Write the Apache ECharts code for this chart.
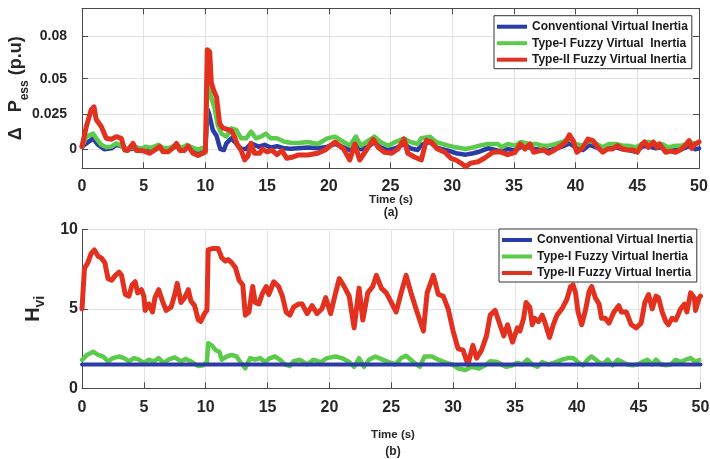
<!DOCTYPE html>
<html>
<head>
<meta charset="utf-8">
<title>Virtual inertia control comparison</title>
<script src="https://cdn.jsdelivr.net/npm/echarts@6/dist/echarts.min.js"></script>
<style>
  html, body { margin: 0; padding: 0; background: #ffffff; }
  #chart { width: 710px; height: 459px; }
</style>
</head>
<body>
<div id="chart"></div>
<script>
// ---- (a) ESS power deviation, p.u. : [time (s), value] ----
const pessConv = [[0,0.0017],[0.35,0.004],[0.9,0.0076],[1.3,0.003],[1.8,-0.0002],[2.38,0.0005],[2.78,0.003],[3.2,0.002],[3.6,-0.0002],[4.0,0.0],[4.5,0.0008],[5.0,-0.0005],[5.5,0.0],[6.2,0.0017],[6.6,-0.0005],[7.1,0.0],[7.66,0.002],[8.1,0.0],[8.5,0.002],[9.0,-0.0002],[9.4,-0.0015],[9.8,-0.0005],[10.0,0.0005],[10.18,0.028],[10.3,0.025],[10.6,0.0135],[10.9,0.0095],[11.2,0.0],[11.5,-0.0007],[11.7,0.004],[12.1,0.0076],[12.5,0.004],[12.9,0.0],[13.3,0.0],[13.7,0.004],[14.3,0.0017],[14.8,0.003],[15.3,0.001],[15.8,0.002],[16.4,0.0005],[16.9,0.0002],[17.5,0.0005],[18.3,0.001],[19.1,0.0005],[19.9,0.0017],[20.5,0.0036],[21.2,0.0012],[21.7,-0.0007],[22.2,0.0036],[22.6,-0.0002],[23.2,0.0017],[23.7,0.005],[24.2,0.0012],[24.8,-0.0007],[25.4,0.0005],[26.1,0.0036],[26.6,0.0005],[27.2,-0.0007],[27.5,0.0029],[28.2,0.005],[28.7,0.0012],[29.2,-0.0002],[29.7,-0.0012],[30.3,-0.003],[31.1,-0.004],[31.7,-0.003],[32.2,-0.0019],[32.9,0.0005],[33.5,-0.0007],[34.0,-0.0019],[34.5,0.0],[35.1,-0.0012],[35.6,0.0017],[36.2,0.0012],[36.8,-0.0002],[37.3,-0.0007],[37.8,-0.0012],[38.4,0.0005],[38.9,0.0017],[39.5,0.004],[40.0,0.0012],[40.6,-0.0007],[41.1,0.0029],[41.7,0.0012],[42.2,-0.0012],[42.7,0.0005],[43.3,0.0012],[43.8,-0.0002],[44.3,-0.0007],[44.9,-0.0019],[45.4,0.0017],[45.9,0.0021],[46.5,0.0005],[47.0,0.0012],[47.5,-0.0012],[48.1,-0.0002],[48.6,-0.0002],[49.2,0.0021],[49.7,-0.0002],[50,0.0005]];

const pessType1 = [[0,0.0017],[0.35,0.0088],[0.9,0.011],[1.15,0.0076],[1.56,0.003],[1.97,0.0012],[2.38,0.0017],[2.78,0.004],[3.05,0.003],[3.46,0.0008],[3.7,-0.0002],[4.26,0.0017],[4.8,0.0],[5.2,0.0017],[5.6,0.0008],[6.2,0.003],[6.57,0.0008],[7.1,0.0008],[7.66,0.003],[8.1,0.0008],[8.5,0.003],[9.0,0.0008],[9.4,-0.0005],[9.8,0.0008],[10.0,0.0017],[10.18,0.0456],[10.5,0.036],[10.75,0.029],[11.0,0.017],[11.3,0.011],[11.7,0.0088],[12.1,0.0147],[12.5,0.0136],[12.9,0.0076],[13.3,0.0076],[13.7,0.0124],[14.1,0.0076],[14.5,0.0088],[14.9,0.011],[15.3,0.0076],[15.8,0.0076],[16.4,0.0052],[16.9,0.0045],[17.5,0.0043],[18.3,0.005],[19.1,0.0036],[19.9,0.0076],[20.5,0.0088],[21.2,0.005],[21.7,0.0024],[22.2,0.0088],[22.6,0.0024],[23.2,0.006],[23.7,0.0088],[24.2,0.005],[24.8,0.0024],[25.4,0.005],[26.1,0.0076],[26.6,0.005],[27.2,0.0036],[27.5,0.0076],[28.2,0.0088],[28.7,0.005],[29.2,0.0036],[29.7,0.0024],[30.3,0.0012],[31.1,0.0],[31.7,0.0012],[32.2,0.0024],[32.9,0.0036],[33.7,0.0036],[34.0,0.0012],[34.5,0.0036],[35.1,0.0024],[35.6,0.005],[36.2,0.0036],[36.8,0.0036],[37.3,0.0024],[37.8,0.0024],[38.4,0.0036],[38.9,0.005],[39.5,0.0076],[40.0,0.0036],[40.6,0.0024],[41.1,0.006],[41.7,0.0036],[42.2,0.0012],[42.7,0.0036],[43.3,0.0036],[43.8,0.0024],[44.3,0.0024],[44.9,0.0012],[45.4,0.0036],[45.9,0.005],[46.5,0.0036],[47.0,0.0036],[47.5,0.0012],[48.1,0.0024],[48.6,0.0024],[49.2,0.005],[49.7,0.0036],[50,0.005]];

const pessType2 = [[0,0.0017],[0.35,0.016],[0.75,0.028],[0.97,0.030],[1.15,0.021],[1.56,0.016],[1.97,0.0076],[2.38,0.007],[2.78,0.0088],[3.19,0.0076],[3.46,-0.0007],[3.7,-0.001],[4.13,0.004],[4.4,-0.001],[4.8,-0.001],[5.2,-0.002],[5.5,-0.003],[5.9,-0.0007],[6.3,0.0017],[6.57,-0.002],[6.98,-0.002],[7.4,0.001],[7.66,0.004],[7.93,-0.001],[8.3,-0.001],[8.6,0.002],[9.0,-0.003],[9.4,-0.0046],[9.8,-0.003],[10.0,-0.002],[10.15,0.0706],[10.35,0.069],[10.48,0.047],[10.7,0.041],[10.9,0.037],[11.16,0.018],[11.4,0.015],[11.76,0.014],[12.1,0.013],[12.35,0.009],[12.6,0.0028],[12.9,-0.001],[13.18,-0.0078],[13.45,-0.005],[13.7,0.004],[13.97,-0.003],[14.4,-0.003],[14.6,0.0],[15.0,-0.002],[15.4,-0.0008],[15.8,-0.004],[16.2,-0.0012],[16.6,-0.0066],[17.1,-0.0057],[17.5,-0.0043],[18.3,-0.0043],[19.1,-0.003],[19.7,-0.0007],[20.5,0.005],[21.2,0.0],[21.7,-0.0078],[22.1,0.0036],[22.5,-0.0078],[23.1,0.0],[23.6,0.0069],[24.0,0.0012],[24.5,-0.0023],[25.1,-0.003],[25.6,0.0],[26.1,0.007],[26.4,-0.003],[26.9,-0.0055],[27.5,-0.0078],[27.9,0.0062],[28.3,0.005],[28.8,0.0],[29.4,-0.0023],[29.9,-0.0066],[30.3,-0.0078],[30.7,-0.010],[31.1,-0.0126],[31.5,-0.010],[32.1,-0.009],[32.6,-0.0066],[33.3,-0.0023],[33.9,-0.002],[34.5,-0.004],[35.1,-0.0023],[35.5,0.0036],[35.9,0.0],[36.3,0.0036],[36.6,-0.0023],[37.0,-0.0015],[37.4,-0.0005],[37.8,-0.003],[38.3,-0.0007],[38.8,0.0024],[39.2,0.005],[39.5,0.0100],[39.8,0.006],[40.1,-0.0023],[40.6,0.0012],[41.0,0.0071],[41.4,0.006],[41.8,0.0012],[42.2,-0.0023],[42.6,0.0],[43.0,0.0],[43.4,0.0024],[43.8,0.0],[44.2,-0.0007],[44.6,-0.0007],[45.0,-0.0023],[45.4,0.0036],[45.6,0.005],[45.9,0.0012],[46.3,0.005],[46.6,0.0012],[46.8,0.0036],[47.3,-0.0023],[47.7,-0.0015],[48.1,-0.0023],[48.5,-0.0005],[48.9,0.0024],[49.2,0.006],[49.4,0.0005],[49.7,0.0036],[50,0.005]];

// ---- (b) virtual inertia constant H_vi : [time (s), value] ----
const hConv = [[0,1.5],[50,1.5]];

const hType1 = [[0,1.78],[0.4,2.1],[0.9,2.3],[1.3,2.1],[1.7,2.0],[2.1,1.7],[2.5,1.9],[3.0,2.0],[3.4,1.9],[3.8,1.7],[4.2,1.9],[4.6,1.8],[5.0,1.6],[5.4,1.8],[5.8,1.7],[6.2,1.9],[6.6,1.6],[7.0,1.8],[7.5,1.95],[8.0,1.7],[8.4,1.85],[8.9,1.65],[9.4,1.4],[9.8,1.45],[10.1,1.65],[10.2,2.83],[10.5,2.7],[10.8,2.4],[11.1,2.3],[11.3,1.8],[11.7,2.0],[12.1,2.1],[12.5,2.0],[12.8,1.65],[13.2,1.26],[13.6,1.9],[14.0,1.8],[14.4,1.9],[14.8,1.65],[15.2,1.9],[15.6,2.0],[16.0,1.8],[16.4,1.5],[16.8,1.4],[17.1,1.7],[17.6,1.8],[18.2,1.5],[18.7,1.8],[19.3,1.65],[19.8,1.9],[20.5,2.0],[21.0,1.9],[21.6,1.65],[22.0,1.35],[22.4,1.9],[22.8,1.35],[23.2,1.8],[23.7,2.0],[24.3,1.8],[24.8,1.65],[25.3,1.5],[25.8,1.9],[26.2,2.05],[26.8,1.65],[27.3,1.35],[27.7,2.0],[28.3,2.0],[28.8,1.8],[29.3,1.65],[29.9,1.5],[30.4,1.25],[31.0,1.15],[31.5,1.35],[32.1,1.25],[32.6,1.45],[33.0,1.7],[33.6,1.65],[34.0,1.45],[34.3,1.35],[34.8,1.45],[35.2,1.6],[35.6,1.5],[36.0,1.8],[36.4,1.5],[36.8,1.35],[37.2,1.65],[37.7,1.5],[38.3,1.65],[38.8,1.8],[39.3,1.9],[39.7,1.9],[40.1,1.65],[40.5,1.45],[41.0,1.9],[41.2,2.0],[41.7,1.7],[42.1,1.5],[42.5,1.8],[42.9,1.45],[43.3,1.8],[43.7,1.65],[44.1,1.5],[44.5,1.45],[44.9,1.5],[45.3,1.65],[45.7,1.8],[46.1,1.5],[46.4,1.8],[46.8,1.5],[47.2,1.45],[47.6,1.5],[48.0,1.8],[48.4,1.65],[48.8,1.8],[49.2,1.9],[49.6,1.65],[49.9,1.78]];

const hType2 = [[0,5.0],[0.2,7.55],[0.48,7.9],[0.75,8.5],[1.0,8.7],[1.3,8.3],[1.57,8.2],[1.85,7.9],[2.1,6.9],[2.4,6.8],[2.7,7.1],[3.0,7.3],[3.2,7.1],[3.5,5.9],[3.8,5.8],[4.05,6.5],[4.3,6.7],[4.5,6.0],[4.8,6.2],[5.0,5.8],[5.1,4.9],[5.4,5.3],[5.7,4.8],[5.9,5.7],[6.2,6.2],[6.5,5.5],[6.8,4.9],[7.2,5.1],[7.5,5.9],[7.7,6.6],[8.0,5.4],[8.3,5.7],[8.6,6.2],[8.8,5.5],[9.1,5.2],[9.4,4.3],[9.6,4.2],[9.9,4.7],[10.1,4.9],[10.2,8.7],[10.6,8.8],[11.0,8.8],[11.3,8.2],[11.6,8.0],[11.8,8.1],[12.1,7.9],[12.4,7.6],[12.7,6.8],[13.0,6.5],[13.2,4.6],[13.5,4.8],[13.8,6.4],[14.0,5.4],[14.3,5.3],[14.6,6.0],[14.9,6.4],[15.1,5.9],[15.5,6.7],[15.9,6.4],[16.2,5.8],[16.5,4.8],[16.8,4.6],[17.1,5.1],[17.5,5.3],[17.8,5.3],[18.2,4.7],[18.6,5.2],[19.0,4.7],[19.4,5.0],[19.7,5.7],[20.1,4.7],[20.5,6.0],[20.8,6.9],[21.2,6.4],[21.6,5.8],[22.0,3.8],[22.4,6.3],[22.7,4.3],[23.1,6.0],[23.5,6.4],[23.8,7.1],[24.2,6.3],[24.6,6.0],[25.0,5.4],[25.4,4.8],[25.8,6.0],[26.2,7.1],[26.6,6.0],[27.0,5.0],[27.6,3.6],[27.9,6.0],[28.4,7.1],[28.8,5.9],[29.2,5.8],[29.6,5.0],[30.0,3.6],[30.4,2.5],[30.8,2.4],[31.2,1.5],[31.6,2.7],[31.9,1.9],[32.3,2.4],[32.7,3.3],[33.0,4.6],[33.4,4.9],[33.7,4.2],[34.1,3.3],[34.4,4.0],[34.8,2.9],[35.2,3.8],[35.4,3.6],[35.7,4.4],[35.9,5.4],[36.2,5.1],[36.4,4.0],[36.6,4.4],[36.9,4.2],[37.2,4.6],[37.4,4.2],[37.8,3.2],[38.1,4.0],[38.4,4.6],[38.8,5.0],[39.2,5.6],[39.5,6.4],[39.7,6.5],[39.9,6.0],[40.1,4.8],[40.4,4.0],[40.7,4.9],[41.0,6.1],[41.2,6.4],[41.5,5.7],[41.8,5.3],[42.0,4.4],[42.3,4.4],[42.6,4.1],[43.0,4.8],[43.4,5.2],[43.6,4.8],[44.0,4.8],[44.4,4.0],[44.8,3.8],[45.2,4.1],[45.5,5.4],[45.8,5.9],[46.1,5.0],[46.4,5.8],[46.6,5.7],[46.9,4.8],[47.2,4.2],[47.4,4.0],[47.7,4.4],[48.0,4.3],[48.4,5.0],[48.7,5.3],[48.9,4.8],[49.2,6.0],[49.5,5.7],[49.6,4.9],[49.9,5.7],[50,5.8]];

// axis ticks
const pessTicks = [0, 0.025, 0.05, 0.08];
const hTicks = [0, 5, 10];

// legend entries
const nameConv = 'Conventional Virtual Inertia';
const nameType1a = 'Type-I Fuzzy Virtual  Inertia';
const nameType1b = 'Type-I Fuzzy Virtual Inertia';
const nameType2 = 'Type-II Fuzzy Virtual Inertia';

const FONT = '"Liberation Sans", Arial, Helvetica, sans-serif';
const INK = '#262626';
const AXIS = '#4a4a4a';
const GRIDC = '#e3e3e3';
const BLUE = '#2c3ca6';
const GREEN = '#5ccb4b';
const RED = '#e2321f';

const chart = echarts.init(document.getElementById('chart'), null, { renderer: 'canvas' });

function timeAxis(gridIndex, opts) {
  return Object.assign({
    type: 'value', gridIndex: gridIndex, min: 0, max: 50, interval: 5,
    axisLine: { show: true, onZero: false, lineStyle: { color: AXIS, width: 1 } },
    axisTick: { show: true, inside: true, length: 6, lineStyle: { color: AXIS } },
    axisLabel: { show: true, fontFamily: FONT, fontSize: 16, fontWeight: 'bold', color: INK, margin: 10 },
    splitLine: { show: true, lineStyle: { color: GRIDC, width: 1 } }
  }, opts || {});
}

function lineSeries(name, data, xi, yi, color, width) {
  return {
    name: name, type: 'line', xAxisIndex: xi, yAxisIndex: yi, data: data,
    showSymbol: false, color: color,
    lineStyle: { width: width, color: color, cap: 'round', join: 'round' }
  };
}

const legendText = { fontFamily: FONT, fontSize: 12, fontWeight: 'bold', color: '#1a1a1a', lineHeight: 14 };

const option = {
  animation: false,
  backgroundColor: '#ffffff',
  grid: [
    { left: 82, top: 8.3, width: 617, height: 160, show: false, containLabel: false, outerBoundsMode: 'none' },
    { left: 82, top: 229.3, width: 618.5, height: 159, show: false, containLabel: false, outerBoundsMode: 'none' }
  ],
  xAxis: [
    timeAxis(0),
    timeAxis(0, { position: 'top', axisLabel: { show: false }, splitLine: { show: false } }),
    timeAxis(1, { axisLabel: { show: true, fontFamily: FONT, fontSize: 16, fontWeight: 'bold', color: INK, margin: 11 } })
  ],
  yAxis: [
    {
      type: 'value', gridIndex: 0, min: -0.0137, max: 0.1,
      name: '{m|Δ   P}{s|ess}{m| (p.u)}',
      nameLocation: 'middle', nameGap: 51, nameMoveOverlap: false,
      nameTextStyle: {
        rich: {
          m: { fontFamily: FONT, fontSize: 18, fontWeight: 'bold', color: INK, lineHeight: 24, verticalAlign: 'top' },
          s: { fontFamily: FONT, fontSize: 12, fontWeight: 'bold', color: INK, lineHeight: 12, verticalAlign: 'bottom' }
        }
      },
      axisLine: { show: true, onZero: false, lineStyle: { color: AXIS } },
      axisTick: { show: true, inside: true, length: 6, customValues: pessTicks, lineStyle: { color: AXIS } },
      axisLabel: {
        show: true, customValues: pessTicks, margin: 5,
        fontFamily: FONT, fontSize: 14, fontWeight: 'bold', color: INK,
        formatter: function (v) { return v === 0 ? '0' : '{p|' + v + '}'; },
        rich: { p: { fontFamily: FONT, fontSize: 14, fontWeight: 'bold', color: INK, padding: [0, 10, 0, 0] } }
      },
      splitLine: { show: true, lineStyle: { color: GRIDC } }
    },
    {
      type: 'value', gridIndex: 0, min: -0.0137, max: 0.1, position: 'right',
      axisLine: { show: true, onZero: false, lineStyle: { color: AXIS } },
      axisTick: { show: true, inside: true, length: 6, customValues: pessTicks, lineStyle: { color: AXIS } },
      axisLabel: { show: false },
      splitLine: { show: false }
    },
    {
      type: 'value', gridIndex: 1, min: hTicks[0], max: hTicks[hTicks.length - 1], interval: 5,
      name: '{m|H}{s|vi}',
      nameLocation: 'middle', nameGap: 35, nameMoveOverlap: false,
      nameTextStyle: {
        rich: {
          m: { fontFamily: FONT, fontSize: 20, fontWeight: 'bold', color: INK, lineHeight: 24, verticalAlign: 'top' },
          s: { fontFamily: FONT, fontSize: 14, fontWeight: 'bold', color: INK, lineHeight: 14, verticalAlign: 'bottom' }
        }
      },
      axisLine: { show: true, onZero: false, lineStyle: { color: AXIS } },
      axisTick: { show: true, inside: true, length: 6, lineStyle: { color: AXIS } },
      axisLabel: { show: true, margin: 4, fontFamily: FONT, fontSize: 16, fontWeight: 'bold', color: INK },
      splitLine: { show: true, lineStyle: { color: GRIDC } }
    }
  ],
  legend: [
    {
      left: 494, top: 15.7, orient: 'vertical', itemGap: 2.5,
      itemWidth: 30, itemHeight: 4, icon: 'rect',
      padding: [4, 4, 2, 3],
      borderColor: '#333333', borderWidth: 1, backgroundColor: '#ffffff',
      textStyle: legendText,
      data: [nameConv, nameType1a, nameType2]
    },
    {
      left: 499, top: 229, orient: 'vertical', itemGap: 2.5,
      itemWidth: 30, itemHeight: 4, icon: 'rect',
      padding: [4, 4, 2, 3],
      borderColor: '#333333', borderWidth: 1, backgroundColor: '#ffffff',
      textStyle: legendText,
      data: [nameConv, nameType1b, nameType2]
    }
  ],
  graphic: [
    { type: 'text', x: 391, y: 200, style: { text: 'Time (s)', align: 'center', verticalAlign: 'middle', fontFamily: FONT, fontSize: 11.5, fontWeight: 'bold', fill: INK } },
    { type: 'text', x: 391, y: 213, style: { text: '(a)', align: 'center', verticalAlign: 'middle', fontFamily: FONT, fontSize: 12, fontWeight: 'bold', fill: INK } },
    { type: 'text', x: 393, y: 435, style: { text: 'Time (s)', align: 'center', verticalAlign: 'middle', fontFamily: FONT, fontSize: 11.5, fontWeight: 'bold', fill: INK } },
    { type: 'text', x: 393, y: 452, style: { text: '(b)', align: 'center', verticalAlign: 'middle', fontFamily: FONT, fontSize: 12, fontWeight: 'bold', fill: INK } }
  ],
  series: [
    lineSeries(nameConv, pessConv, 0, 0, BLUE, 4.5),
    lineSeries(nameType1a, pessType1, 0, 0, GREEN, 4.5),
    lineSeries(nameType2, pessType2, 0, 0, RED, 5),
    lineSeries(nameType1b, hType1, 2, 2, GREEN, 4.5),
    lineSeries(nameType2, hType2, 2, 2, RED, 5),
    lineSeries(nameConv, hConv, 2, 2, BLUE, 4)
  ]
};

chart.setOption(option);
</script>
</body>
</html>
